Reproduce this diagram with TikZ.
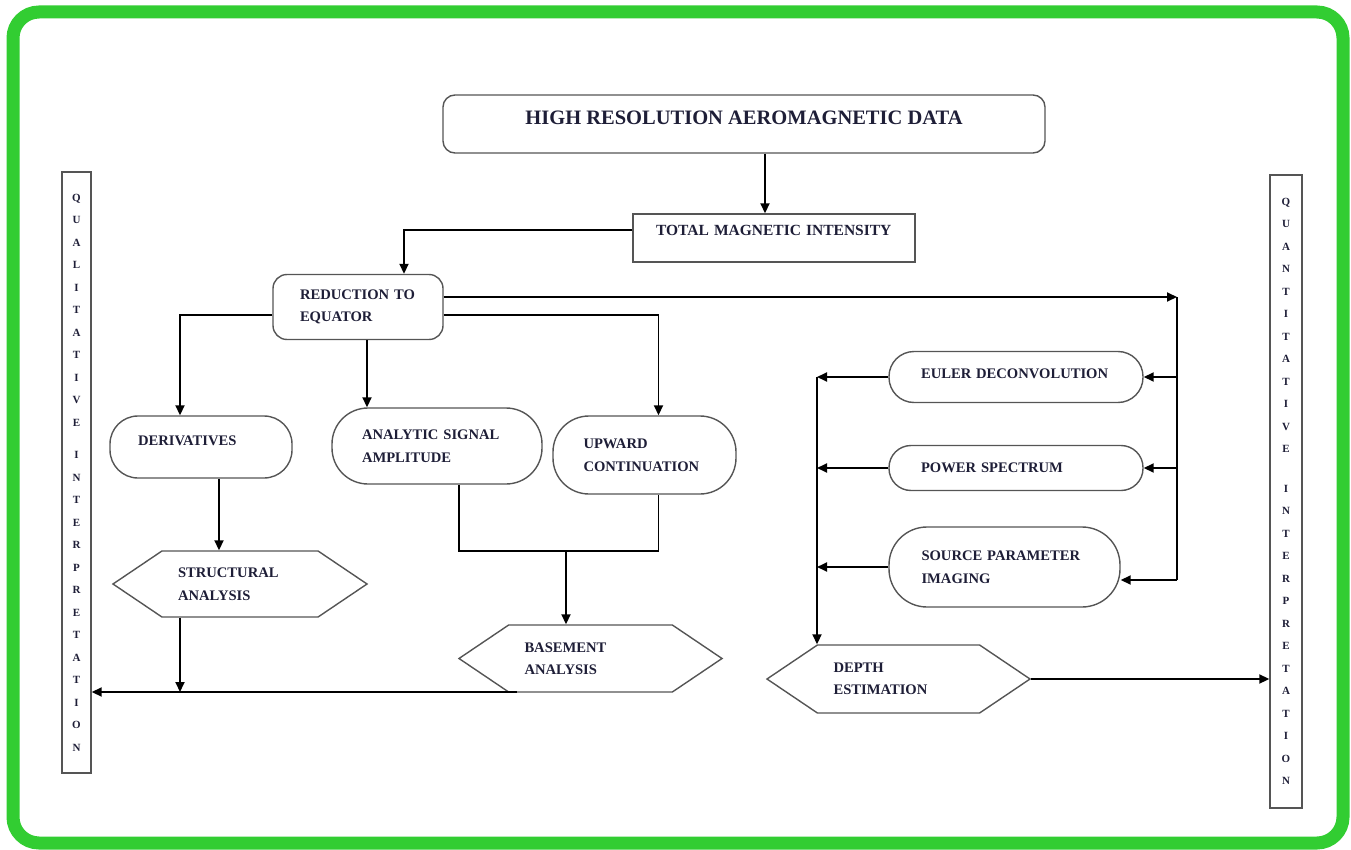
\documentclass[tikz,border=0pt]{standalone}
\usepackage{fontspec}
\setmainfont{Liberation Serif}
\usetikzlibrary{arrows.meta,shapes.symbols}

\definecolor{framegreen}{RGB}{50,205,50}
\definecolor{boxgray}{RGB}{85,85,85}
\definecolor{labelink}{RGB}{30,30,55}

\begin{document}
\begin{tikzpicture}[x=1pt, y=-1pt,
  box/.style={draw=boxgray, line width=1.4pt, inner sep=0pt, text=labelink,
    font=\fontsize{14.6}{22.5}\selectfont\bfseries},
  roundbox/.style={box, rounded corners=#1},
  hexbox/.style={box, shape=signal, signal to=west and east, signal pointer angle=68},
  letters/.style={box, align=center, font=\fontsize{11}{22.5}\selectfont\bfseries},
  arr/.style={-{Triangle[length=10pt,width=9pt]}, line width=1.8pt},
  wire/.style={line width=1.8pt}]

\useasboundingbox (0,0) rectangle (1351,850);
\draw[framegreen, line width=13pt, rounded corners=26pt] (13,12) rectangle (1343,843);

\draw
    (744,124) node[roundbox=12pt, minimum width=602pt, minimum height=58pt, text depth=12pt,
        font=\fontsize{20.5}{22}\selectfont\bfseries] (hrad) {HIGH RESOLUTION AEROMAGNETIC DATA}
    (774,238) node[box, minimum width=282pt, minimum height=48pt, text width=236pt, align=left,
        text depth=16pt, font=\fontsize{15.5}{22}\selectfont\bfseries] (tmi) {TOTAL MAGNETIC INTENSITY}
    (358,307) node[roundbox=14pt, minimum width=170pt, minimum height=65pt, text width=116pt,
        align=left] (rte) {REDUCTION TO\\EQUATOR}
    (201,447) node[roundbox=28pt, minimum width=182pt, minimum height=62pt, text width=126pt,
        align=left, text depth=12pt] (der) {DERIVATIVES}
    (437,446) node[roundbox=36pt, minimum width=210pt, minimum height=76pt, text width=150pt,
        align=left] (asa) {ANALYTIC SIGNAL\\AMPLITUDE}
    (644.5,455) node[roundbox=36pt, minimum width=183pt, minimum height=78pt, text width=122pt,
        align=left] (uc) {UPWARD\\CONTINUATION}
    (240,584) node[hexbox, minimum width=254pt, minimum height=66pt, text width=124pt,
        align=left] (sa) {STRUCTURAL\\ANALYSIS}
    (590.5,658.5) node[hexbox, minimum width=263pt, minimum height=67pt, text width=132pt,
        align=left] (ba) {BASEMENT\\ANALYSIS}
    (898.5,679) node[hexbox, minimum width=263pt, minimum height=68pt, text width=130pt,
        align=left] (de) {DEPTH\\ESTIMATION}
    (1016,377) node[roundbox=25pt, minimum width=254pt, minimum height=51pt, text width=190pt,
        align=left, text depth=6pt] (ed) {EULER DECONVOLUTION}
    (1016,468) node[roundbox=22pt, minimum width=254pt, minimum height=45pt, text width=190pt,
        align=left] (ps) {POWER SPECTRUM}
    (1004.5,567) node[roundbox=38pt, minimum width=231pt, minimum height=80pt, text width=166pt,
        align=left] (spi) {SOURCE PARAMETER\\IMAGING}
    (76.5,472.5) node[letters, minimum width=29pt, minimum height=601pt] (qual)
        {Q\\U\\A\\L\\I\\T\\A\\T\\I\\V\\E\\[10pt]I\\N\\T\\E\\R\\P\\R\\E\\T\\A\\T\\I\\O\\N}
    (1286,491.5) node[letters, minimum width=32pt, minimum height=633pt] (quant)
        {Q\\U\\A\\N\\T\\I\\T\\A\\T\\I\\V\\E\\[17pt]I\\N\\T\\E\\R\\P\\R\\E\\T\\A\\T\\I\\O\\N};

\coordinate (bustop) at (1177,297);
\coordinate (busbot) at (1177,580);
\coordinate (lbtop) at (817,377);
\coordinate (bkt) at (566,551);
\coordinate (bbus) at (517,692);

\draw[arr] ([xshift=21pt]hrad.south) -- ([xshift=-9pt]tmi.north);
\draw[arr] ([yshift=8pt]tmi.west) -| ([xshift=46pt]rte.north);
\draw[arr] ([yshift=-8pt]rte.west) -| ([xshift=-21pt]der.north);
\draw[arr] ([xshift=9pt]rte.south) -- ([xshift=-70pt]asa.north);
\draw[arr] ([yshift=-8pt]rte.east) -| ([xshift=14pt]uc.north);
\draw[arr] ([xshift=18pt]der.south) -- ([xshift=-21pt]sa.north);

\draw[wire] ([xshift=22pt]asa.south) |- (bkt) -| ([xshift=14pt]uc.south);
\draw[arr] (bkt) -- (bkt |- ba.north);

\draw[arr] (bbus) -- (bbus -| qual.east);
\draw[arr] ([xshift=-60pt]sa.south) -- ([xshift=-60pt]sa.south |- bbus);

\draw[arr] ([yshift=10pt]rte.east) -- ([yshift=10pt]rte.east -| bustop);
\draw[wire] (bustop) -- (busbot);
\draw[arr] (bustop |- ed.east) -- (ed.east);
\draw[arr] (bustop |- ps.east) -- (ps.east);
\draw[arr] (busbot) -- (busbot -| spi.east);

\draw[arr] (ed.west) -- (ed.west -| lbtop);
\draw[arr] (ps.west) -- (ps.west -| lbtop);
\draw[arr] (spi.west) -- (spi.west -| lbtop);
\draw[arr] (lbtop) -- (lbtop |- de.north);
\draw[arr] (de.east) -- (de.east -| quant.west);

\end{tikzpicture}
\end{document}
